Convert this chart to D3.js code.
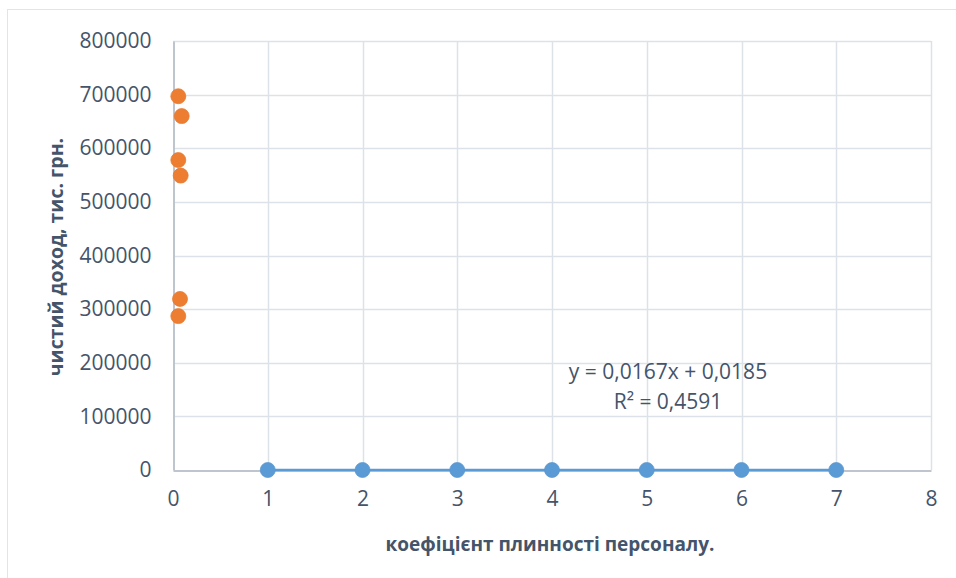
<!DOCTYPE html>
<html>
<head>
<meta charset="utf-8">
<script src="https://cdn.jsdelivr.net/npm/d3@7"></script>
<style>
  html, body { margin: 0; padding: 0; background: #fff; }
  svg { display: block; font-family: "Open Sans", "Noto Sans", sans-serif; }
</style>
</head>
<body>
<svg id="chart" width="956" height="578"></svg>
<script>
// Coefficient of staff turnover vs. net income (thousand UAH)
const incomeX = [0.056, 0.092, 0.056, 0.081, 0.074, 0.056];
const incomeY = [697000, 660000, 578000, 549000, 319000, 287000];

// Second series: observation index on x, near-zero values on y
const indexX = [1, 2, 3, 4, 5, 6, 7];
const indexY = [0, 0, 0, 0, 0, 0, 0];

// Linear trend fitted to the second series
const trendSlope = 0.0167;
const trendIntercept = 0.0185;
const trendLabel = ["y = 0,0167x + 0,0185", "R² = 0,4591"];

const xTicks = [0, 1, 2, 3, 4, 5, 6, 7, 8];
const yTicks = [0, 100000, 200000, 300000, 400000, 500000, 600000, 700000, 800000];

const xTitle = "коефіцієнт плинності персоналу.";
const yTitle = "чистий доход, тис. грн.";

const svg = d3.select("#chart");
const W = 956, H = 578;
const plot = { left: 173, right: 931, top: 41, bottom: 470 };

const textColor = "#44546a";
const gridColor = "#dde1e8";
const axisColor = "#bfc5cf";
const orange = "#ed7d31";
const blue = "#5b9bd5";

// Outer chart frame
svg.append("rect")
  .attr("x", 7.5).attr("y", 9.5)
  .attr("width", W - 7).attr("height", H)
  .attr("fill", "#fff").attr("stroke", "#e2e4e8").attr("stroke-width", 1);

const x = d3.scaleLinear().domain([0, 8]).range([plot.left, plot.right]);
const y = d3.scaleLinear().domain([0, 800000]).range([plot.bottom, plot.top]);

// Gridlines
const grid = svg.append("g");
grid.selectAll("line.h").data(yTicks.slice(1)).join("line")
  .attr("x1", plot.left).attr("x2", plot.right)
  .attr("y1", d => Math.round(y(d)) + 0.5).attr("y2", d => Math.round(y(d)) + 0.5)
  .attr("stroke", gridColor).attr("stroke-width", 1.5);
grid.selectAll("line.v").data(xTicks.slice(1)).join("line")
  .attr("y1", plot.top).attr("y2", plot.bottom)
  .attr("x1", d => Math.round(x(d)) + 0.5).attr("x2", d => Math.round(x(d)) + 0.5)
  .attr("stroke", gridColor).attr("stroke-width", 1.5);

// Axes
const xAxis = svg.append("g").attr("transform", `translate(0,${plot.bottom + 0.5})`)
  .call(d3.axisBottom(x).tickValues(xTicks).tickSize(0).tickPadding(22).tickFormat(d3.format("d")));
const yAxis = svg.append("g").attr("transform", `translate(${plot.left + 0.5},0)`)
  .call(d3.axisLeft(y).tickValues(yTicks).tickSize(0).tickPadding(22).tickFormat(d => String(d)));
[xAxis, yAxis].forEach(a => {
  a.select(".domain").attr("stroke", axisColor).attr("stroke-width", 2);
  a.selectAll("text").attr("fill", textColor).attr("font-size", 21)
    .attr("font-family", "'Open Sans', 'Noto Sans', sans-serif");
});
xAxis.selectAll("text").attr("dy", "0.71em").attr("y", 21);
yAxis.selectAll("text").attr("x", -22);

// Trend line over the range of the second series
const trendExt = d3.extent(indexX);
svg.append("line")
  .attr("x1", x(trendExt[0])).attr("x2", x(trendExt[1]))
  .attr("y1", y(trendSlope * trendExt[0] + trendIntercept))
  .attr("y2", y(trendSlope * trendExt[1] + trendIntercept))
  .attr("stroke", blue).attr("stroke-width", 2.5);

// Markers
svg.append("g").selectAll("circle").data(indexX.map((d, i) => [d, indexY[i]])).join("circle")
  .attr("cx", d => x(d[0])).attr("cy", d => y(d[1])).attr("r", 7.5)
  .attr("fill", blue).attr("stroke", "#5a96ce").attr("stroke-width", 0.75);
svg.append("g").selectAll("circle").data(incomeX.map((d, i) => [d, incomeY[i]])).join("circle")
  .attr("cx", d => x(d[0])).attr("cy", d => y(d[1])).attr("r", 7.5)
  .attr("fill", orange).attr("stroke", "#e57a30").attr("stroke-width", 0.75);

// Trend equation label
svg.append("g").selectAll("text").data(trendLabel).join("text")
  .attr("x", 668).attr("y", (d, i) => 379 + i * 30)
  .attr("text-anchor", "middle").attr("fill", textColor).attr("font-size", 21)
  .text(d => d);

// Axis titles
svg.append("text")
  .attr("x", 550).attr("y", 551)
  .attr("text-anchor", "middle").attr("fill", textColor)
  .attr("font-size", 19).attr("font-weight", "bold")
  .text(xTitle);
svg.append("text")
  .attr("transform", `translate(63,257) rotate(-90)`)
  .attr("text-anchor", "middle").attr("fill", textColor)
  .attr("font-size", 19.5).attr("font-weight", "bold")
  .text(yTitle);
</script>
</body>
</html>
